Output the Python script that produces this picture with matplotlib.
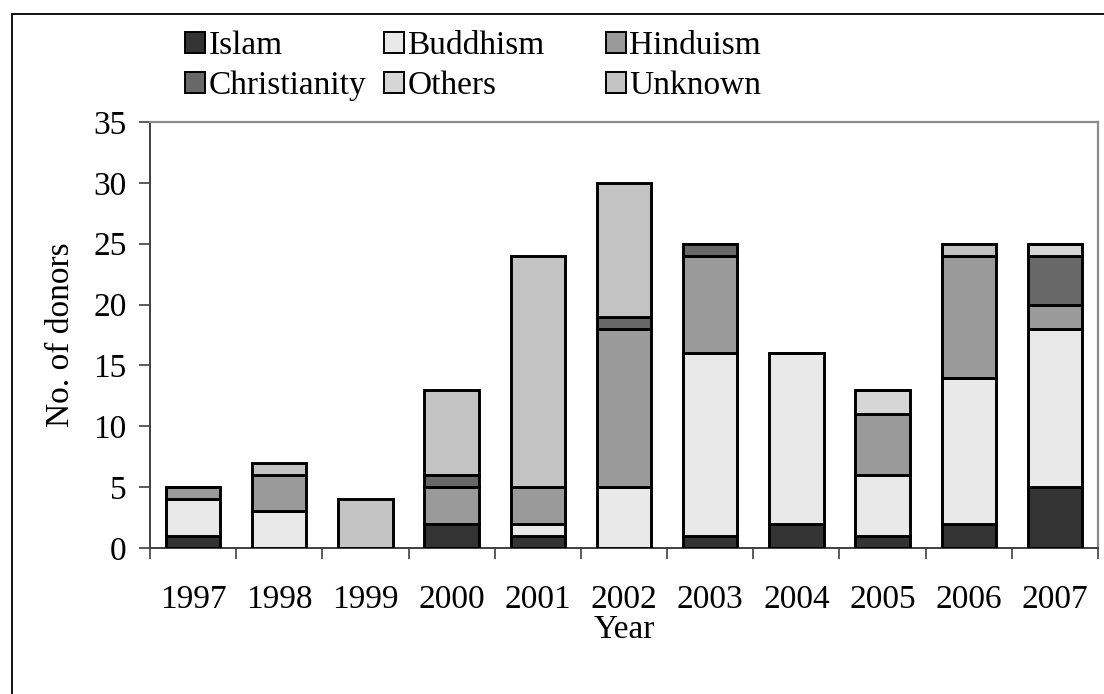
import matplotlib
matplotlib.use("Agg")
import matplotlib.pyplot as plt
from matplotlib.patches import Rectangle, Patch
import numpy as np

years = ["1997", "1998", "1999", "2000", "2001", "2002", "2003", "2004", "2005", "2006", "2007"]
islam        = [1, 0, 0, 2, 1, 0, 1, 2, 1, 2, 5]
buddhism     = [3, 3, 0, 0, 1, 5, 15, 14, 5, 12, 13]
hinduism     = [1, 3, 0, 3, 3, 13, 8, 0, 5, 10, 2]
christianity = [0, 0, 0, 1, 0, 1, 1, 0, 0, 0, 4]
others       = [0, 0, 0, 0, 0, 0, 0, 0, 2, 0, 1]
unknown      = [0, 1, 4, 7, 19, 11, 0, 0, 0, 1, 0]

series = [
    ("Islam", islam, "#333333"),
    ("Buddhism", buddhism, "#e9e9e9"),
    ("Hinduism", hinduism, "#9a9a9a"),
    ("Christianity", christianity, "#686868"),
    ("Others", others, "#d6d6d6"),
    ("Unknown", unknown, "#c3c3c3"),
]

plt.rcParams["font.family"] = ["Liberation Serif", "DejaVu Serif"]

W, H = 1104, 694
fig = plt.figure(figsize=(W / 100, H / 100), dpi=100)

# outer frame around the chart
fig.patches.append(Rectangle((12 / W, -0.1), 1.2, (H - 14) / H + 0.1,
                             transform=fig.transFigure, fill=False,
                             edgecolor="black", linewidth=1.3))

ax = fig.add_axes([150 / W, (H - 548) / H, (1098 - 150) / W, (548 - 122) / H])

x = np.arange(len(years))
bottom = np.zeros(len(years))
handles = {}
for name, vals, color in series:
    v = np.array(vals, dtype=float)
    ax.bar(x, v, width=0.63, bottom=bottom, color=color,
           edgecolor="black", linewidth=2.1, zorder=3)
    bottom += v
    handles[name] = Patch(facecolor=color, edgecolor="black", linewidth=1.4)

ax.set_xlim(-0.5, len(years) - 0.5)
ax.set_ylim(0, 35)
ax.set_yticks(range(0, 36, 5))
ax.set_xticks(x)
ax.set_xticklabels(years)
ax.set_xticks(np.arange(-0.5, len(years), 1.0), minor=True)
ax.tick_params(axis="x", which="major", length=0, pad=26, labelsize=24)
ax.tick_params(axis="x", which="minor", length=8, width=1.2, color="#404040", direction="out")
ax.tick_params(axis="y", length=8, width=1.2, color="#404040", pad=9, labelsize=24)

for side in ("left", "bottom"):
    ax.spines[side].set_color("#404040")
    ax.spines[side].set_linewidth(1.4)
for side in ("top", "right"):
    ax.spines[side].set_color("#8c8c8c")
    ax.spines[side].set_linewidth(1.6)

ax.set_xlabel("Year", fontsize=24, labelpad=0)
ax.set_ylabel("No. of donors", fontsize=24, labelpad=12)

# legend laid out as three columns of two entries each
columns = [("Islam", "Christianity"), ("Buddhism", "Others"), ("Hinduism", "Unknown")]
col_x = [185, 384, 606]
for names, cx in zip(columns, col_x):
    leg = fig.legend([handles[n] for n in names], list(names), ncol=1, frameon=False,
                     fontsize=24, loc="upper left", bbox_to_anchor=(cx / W, 1 - 31 / H),
                     handlelength=0.6, handleheight=0.6, handletextpad=0.1,
                     labelspacing=0.28, borderpad=0, borderaxespad=0)

fig.savefig("out.png", dpi=100)
